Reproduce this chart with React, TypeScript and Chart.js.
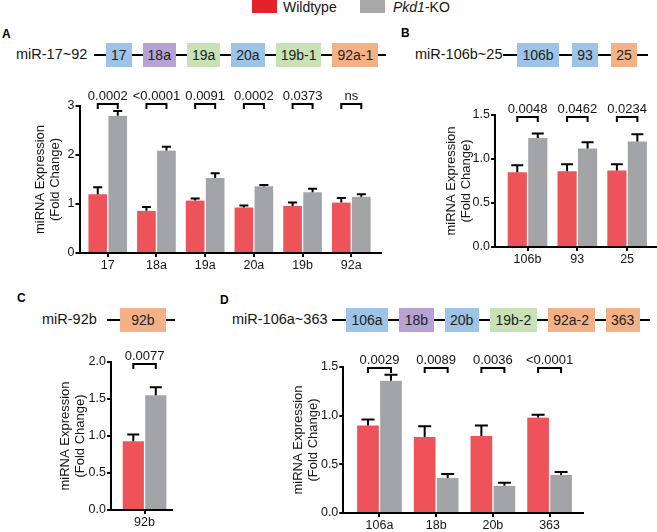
import React, { useEffect, useRef } from 'react';
import { Chart, registerables } from 'chart.js';

Chart.register(...registerables);

const FONT = '"Liberation Sans", Arial, Helvetica, sans-serif';
const BAR_RED = '#EF535A';
const BAR_GREY = '#A3A4A7';
const LEG_RED = '#E4222B';
const LEG_GREY = '#A8A8A8';
const TXT = '#151515';
const BOX_COLORS: Record<string, string> = {
  blue: '#9DC3E6',
  purple: '#B6A3D4',
  green: '#C8E1B5',
  orange: '#F4B186',
};

// ---------- legend ----------
const legendLabels = ['Wildtype', 'Pkd1-KO'];

// ---------- Panel A: miR-17~92 ----------
const clusterA = ['17', '18a', '19a', '20a', '19b-1', '92a-1'];
const familyA = ['blue', 'purple', 'green', 'blue', 'green', 'orange'];
const catsA = ['17', '18a', '19a', '20a', '19b', '92a'];
const wtA = [1.2, 0.86, 1.07, 0.93, 0.96, 1.03];
const wtSemA = [0.14, 0.08, 0.04, 0.04, 0.07, 0.09];
const koA = [2.8, 2.09, 1.53, 1.36, 1.24, 1.15];
const koSemA = [0.1, 0.08, 0.1, 0.03, 0.07, 0.05];
const pA = ['0.0002', '<0.0001', '0.0091', '0.0002', '0.0373', 'ns'];
const yTicksA = [0, 1, 2, 3];

// ---------- Panel B: miR-106b~25 ----------
const clusterB = ['106b', '93', '25'];
const familyB = ['blue', 'blue', 'orange'];
const catsB = ['106b', '93', '25'];
const wtB = [0.85, 0.86, 0.87];
const wtSemB = [0.08, 0.08, 0.07];
const koB = [1.24, 1.12, 1.2];
const koSemB = [0.05, 0.07, 0.08];
const pB = ['0.0048', '0.0462', '0.0234'];
const yTicksB = [0, 0.5, 1.0, 1.5];

// ---------- Panel C: miR-92b ----------
const clusterC = ['92b'];
const familyC = ['orange'];
const catsC = ['92b'];
const wtC = [0.93];
const wtSemC = [0.09];
const koC = [1.55];
const koSemC = [0.11];
const pC = ['0.0077'];
const yTicksC = [0, 0.5, 1.0, 1.5, 2.0];

// ---------- Panel D: miR-106a~363 ----------
const clusterD = ['106a', '18b', '20b', '19b-2', '92a-2', '363'];
const familyD = ['blue', 'purple', 'blue', 'green', 'orange', 'orange'];
const catsD = ['106a', '18b', '20b', '363'];
const wtD = [0.9, 0.78, 0.79, 0.98];
const wtSemD = [0.06, 0.11, 0.11, 0.03];
const koD = [1.36, 0.36, 0.28, 0.39];
const koSemD = [0.06, 0.04, 0.03, 0.03];
const pD = ['0.0029', '0.0089', '0.0036', '<0.0001'];
const yTicksD = [0, 0.5, 1.0, 1.5];

const yTitle = ['miRNA Expression', '(Fold Change)'];

type Layout = {
  left: number; top: number; w: number; h: number;
  padL: number; yW: number; padTop: number; padR: number; xH: number;
  xMin: number; xMax: number; barT: number; cap: number; brOff: number; dec: number;
};

type PanelData = {
  cats: string[]; wt: number[]; wtSem: number[]; ko: number[]; koSem: number[];
  p: string[]; yTicks: number[];
};

function BarPanel({ d, L }: { d: PanelData; L: Layout }) {
  const ref = useRef<HTMLCanvasElement>(null);
  useEffect(() => {
    const sems = [d.wtSem, d.koSem];
    const vals = [d.wt, d.ko];
    const annot = {
      id: 'annot',
      afterDatasetsDraw(chart: any) {
        const ctx = chart.ctx;
        const ys = chart.scales.y;
        const ca = chart.chartArea;
        ctx.save();
        ctx.strokeStyle = '#000';
        ctx.lineWidth = 2;
        ctx.lineCap = 'butt';
        for (let ds = 0; ds < 2; ds++) {
          const meta = chart.getDatasetMeta(ds);
          meta.data.forEach((bar: any, i: number) => {
            const top = ys.getPixelForValue(vals[ds][i] + sems[ds][i]);
            ctx.beginPath();
            ctx.moveTo(bar.x, bar.y);
            ctx.lineTo(bar.x, top);
            ctx.moveTo(bar.x - L.cap / 2, top);
            ctx.lineTo(bar.x + L.cap / 2, top);
            ctx.stroke();
          });
        }
        const m0 = chart.getDatasetMeta(0);
        const m1 = chart.getDatasetMeta(1);
        ctx.fillStyle = TXT;
        ctx.font = `13px ${FONT}`;
        ctx.textAlign = 'center';
        ctx.textBaseline = 'bottom';
        d.p.forEach((txt, i) => {
          const x1 = m0.data[i].x;
          const x2 = m1.data[i].x;
          const by = ca.top + L.brOff;
          ctx.beginPath();
          ctx.moveTo(x1, by + 5);
          ctx.lineTo(x1, by);
          ctx.lineTo(x2, by);
          ctx.lineTo(x2, by + 5);
          ctx.stroke();
          ctx.fillText(txt, (x1 + x2) / 2, by - 1);
        });
        ctx.restore();
      },
    };
    const tk = d.yTicks;
    const chart = new Chart(ref.current as HTMLCanvasElement, {
      type: 'bar',
      data: {
        datasets: [
          {
            label: legendLabels[0],
            data: d.wt.map((v, i) => ({ x: i + 1, y: v })),
            backgroundColor: BAR_RED,
            borderColor: '#ffffff',
            borderWidth: { left: 1, right: 1, top: 0, bottom: 0 },
            barThickness: L.barT,
          } as any,
          {
            label: legendLabels[1],
            data: d.ko.map((v, i) => ({ x: i + 1, y: v })),
            backgroundColor: BAR_GREY,
            borderColor: '#ffffff',
            borderWidth: { left: 1, right: 1, top: 0, bottom: 0 },
            barThickness: L.barT,
          } as any,
        ],
      },
      options: {
        animation: false,
        responsive: false,
        devicePixelRatio: 1,
        layout: { autoPadding: false, padding: { left: L.padL, top: L.padTop, right: L.padR, bottom: 0 } },
        plugins: { legend: { display: false }, tooltip: { enabled: false }, title: { display: false } },
        scales: {
          x: {
            type: 'linear',
            offset: false,
            min: L.xMin,
            max: L.xMax,
            afterBuildTicks: (s: any) => {
              s.ticks = d.cats.map((_, i) => ({ value: i + 1 }));
            },
            afterFit: (s: any) => {
              s.height = L.xH;
              s.paddingLeft = 0;
              s.paddingRight = 0;
              s.paddingTop = 0;
              s.paddingBottom = 0;
            },
            ticks: {
              callback: (v: any) => d.cats[Math.round(Number(v)) - 1] ?? '',
              font: { family: FONT, size: 12.5 },
              color: TXT,
              padding: 1,
              autoSkip: false,
              maxRotation: 0,
              minRotation: 0,
            },
            grid: { display: true, offset: false, drawOnChartArea: false, drawTicks: true, tickLength: 4, color: '#000', lineWidth: 2 },
            border: { display: true, color: '#000', width: 2 },
          },
          y: {
            min: tk[0],
            max: tk[tk.length - 1],
            afterBuildTicks: (s: any) => {
              s.ticks = tk.map((v) => ({ value: v }));
            },
            afterFit: (s: any) => {
              s.width = L.yW;
              s.paddingLeft = 0;
              s.paddingRight = 0;
              s.paddingTop = 0;
              s.paddingBottom = 0;
            },
            ticks: {
              callback: (v: any) => Number(v).toFixed(L.dec),
              font: { family: FONT, size: 12.5 },
              color: TXT,
              padding: 1,
            },
            grid: { display: true, drawOnChartArea: false, drawTicks: true, tickLength: 4, color: '#000', lineWidth: 2 },
            border: { display: true, color: '#000', width: 2 },
            title: {
              display: true,
              text: yTitle,
              color: TXT,
              font: { family: FONT, size: 13, lineHeight: 1.15 },
              padding: { top: 0, bottom: 0 },
            },
          },
        },
      } as any,
      plugins: [annot],
    });
    return () => chart.destroy();
  }, []);
  return (
    <canvas
      ref={ref}
      width={L.w}
      height={L.h}
      style={{ position: 'absolute', left: L.left, top: L.top, width: L.w, height: L.h }}
    />
  );
}

function Cluster(props: {
  label: string; genes: string[]; fams: string[]; x: number; lineX: number; y: number;
  lead: number; tail: number; gap: number; pad: number;
}) {
  const { label, genes, fams, x, lineX, y, lead, tail, gap, pad } = props;
  return (
    <>
      <div style={{ position: 'absolute', left: x, top: y - 10, fontSize: 14.5, lineHeight: '18px', whiteSpace: 'nowrap', color: TXT }}>
        {label}
      </div>
      <div
        style={{
          position: 'absolute', left: lineX, top: y - 12, height: 24, display: 'flex',
          paddingLeft: lead, paddingRight: tail, gap,
        }}
      >
        <div style={{ position: 'absolute', left: 0, right: 0, top: 10.75, height: 2.5, background: '#000' }} />
        {genes.map((g, i) => (
          <div
            key={i}
            style={{
              position: 'relative', background: BOX_COLORS[fams[i]], padding: `0 ${pad}px`,
              fontSize: 14, lineHeight: '24px', color: '#222', whiteSpace: 'nowrap',
            }}
          >
            {g}
          </div>
        ))}
      </div>
    </>
  );
}

const letterStyle = (left: number, top: number): React.CSSProperties => ({
  position: 'absolute', left, top, fontWeight: 'bold', fontSize: 12, lineHeight: '14px', color: '#000',
});

export default function App() {
  return (
    <div
      style={{
        position: 'fixed', left: 0, top: 0, width: 657, height: 532, background: '#fff',
        overflow: 'hidden', fontFamily: FONT,
      }}
    >
      {/* legend */}
      <div style={{ position: 'absolute', left: 252, top: 0, width: 25, height: 13, background: LEG_RED }} />
      <div style={{ position: 'absolute', left: 283, top: -1, fontSize: 14, lineHeight: '16px', color: TXT }}>
        {legendLabels[0]}
      </div>
      <div style={{ position: 'absolute', left: 360, top: 0, width: 25, height: 13, background: LEG_GREY }} />
      <div style={{ position: 'absolute', left: 393, top: -1, fontSize: 14, lineHeight: '16px', color: TXT }}>
        <i>{legendLabels[1].split('-')[0]}</i>-{legendLabels[1].split('-')[1]}
      </div>

      {/* panel letters */}
      <div style={letterStyle(2, 27)}>A</div>
      <div style={letterStyle(401, 26)}>B</div>
      <div style={letterStyle(17, 291)}>C</div>
      <div style={letterStyle(220, 293)}>D</div>

      {/* gene clusters */}
      <Cluster label="miR-17~92" genes={clusterA} fams={familyA} x={16} lineX={94} y={55} lead={12} tail={8} gap={11} pad={5} />
      <Cluster label="miR-106b~25" genes={clusterB} fams={familyB} x={415} lineX={503} y={55} lead={14} tail={11} gap={12.5} pad={5.5} />
      <Cluster label="miR-92b" genes={clusterC} fams={familyC} x={42} lineX={107} y={320} lead={13} tail={9} gap={0} pad={11.3} />
      <Cluster label="miR-106a~363" genes={clusterD} fams={familyD} x={232} lineX={332} y={320} lead={14} tail={10} gap={11} pad={5.5} />

      <BarPanel
        d={{ cats: catsA, wt: wtA, wtSem: wtSemA, ko: koA, koSem: koSemA, p: pA, yTicks: yTicksA }}
        L={{ left: 0, top: 80, w: 390, h: 203, padL: 32.5, yW: 47, padTop: 26, padR: 9, xH: 30, xMin: 0.42, xMax: 6.61, barT: 20, cap: 9, brOff: -2, dec: 0 }}
      />
      <BarPanel
        d={{ cats: catsB, wt: wtB, wtSem: wtSemB, ko: koB, koSem: koSemB, p: pB, yTicks: yTicksB }}
        L={{ left: 390, top: 90, w: 267, h: 187, padL: 54.2, yW: 50.8, padTop: 25, padR: 0, xH: 30, xMin: 0.347, xMax: 3.6, barT: 20.5, cap: 12, brOff: 2, dec: 1 }}
      />
      <BarPanel
        d={{ cats: catsC, wt: wtC, wtSem: wtSemC, ko: koC, koSem: koSemC, p: pC, yTicks: yTicksC }}
        L={{ left: 0, top: 340, w: 180, h: 192, padL: 58, yW: 53, padTop: 22, padR: 8, xH: 22, xMin: 0.34, xMax: 1.54, barT: 22.5, cap: 12, brOff: 2, dec: 1 }}
      />
      <BarPanel
        d={{ cats: catsD, wt: wtD, wtSem: wtSemD, ko: koD, koSem: koSemD, p: pD, yTicks: yTicksD }}
        L={{ left: 200, top: 345, w: 400, h: 187, padL: 90.8, yW: 52.5, padTop: 22, padR: 17.3, xH: 19, xMin: 0.362, xMax: 4.584, barT: 23, cap: 13, brOff: 1, dec: 1 }}
      />
    </div>
  );
}
